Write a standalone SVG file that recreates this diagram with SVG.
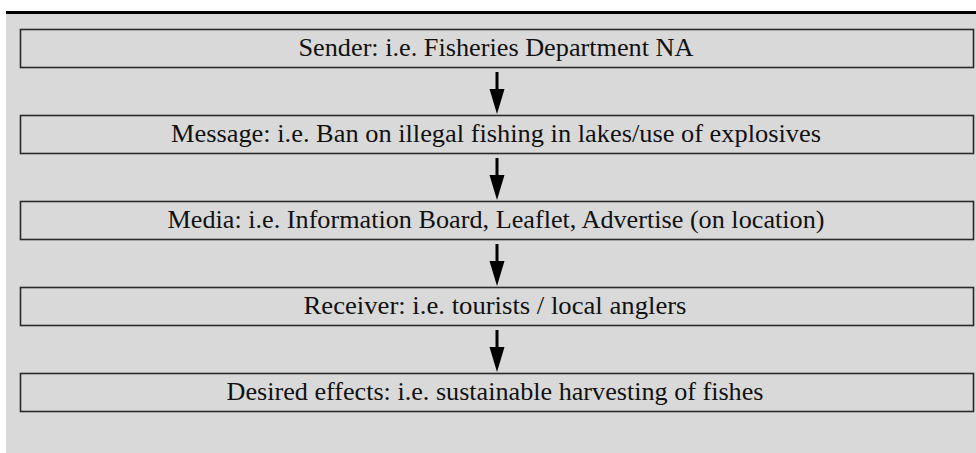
<svg xmlns="http://www.w3.org/2000/svg" width="976" height="453" viewBox="0 0 976 453">
<style>
.box{fill:#d9d9d9;stroke:#2a2a2a;stroke-width:1.6}
.lbl{font-family:"Liberation Serif","Times New Roman",serif;font-size:25px;fill:#111}
.conn{stroke:#000;stroke-width:3;fill:none}
.head{fill:#000}
</style>
<defs>
<g id="arrow">
<line class="conn" x1="0" y1="0" x2="0" y2="19"/>
<polygon class="head" points="-7.5,17 7.5,17 0,42"/>
</g>
</defs>
<rect x="6" y="14" width="970" height="439" fill="#d9d9d9"/>
<rect x="6" y="11" width="970" height="3" fill="#000"/>
<g id="n1"><rect class="box" x="20.5" y="29.5" width="953" height="38"/><text class="lbl" x="496" y="56" text-anchor="middle" textLength="395" lengthAdjust="spacingAndGlyphs">Sender: i.e. Fisheries Department NA</text></g>
<g id="n2"><rect class="box" x="20.5" y="115.5" width="953" height="38"/><text class="lbl" x="496" y="142" text-anchor="middle" textLength="650" lengthAdjust="spacingAndGlyphs">Message: i.e. Ban on illegal fishing in lakes/use of explosives</text></g>
<g id="n3"><rect class="box" x="20.5" y="201.5" width="953" height="38"/><text class="lbl" x="496" y="228" text-anchor="middle" textLength="657" lengthAdjust="spacingAndGlyphs">Media: i.e. Information Board, Leaflet, Advertise (on location)</text></g>
<g id="n4"><rect class="box" x="20.5" y="287.5" width="953" height="38"/><text class="lbl" x="495" y="314" text-anchor="middle" textLength="383" lengthAdjust="spacingAndGlyphs">Receiver: i.e. tourists / local anglers</text></g>
<g id="n5"><rect class="box" x="20.5" y="373.5" width="953" height="38"/><text class="lbl" x="495" y="400" text-anchor="middle" textLength="537" lengthAdjust="spacingAndGlyphs">Desired effects: i.e. sustainable harvesting of fishes</text></g>
<g id="connectors">
<use href="#arrow" x="497" y="72"/>
<use href="#arrow" x="497" y="158"/>
<use href="#arrow" x="497" y="244"/>
<use href="#arrow" x="497" y="330"/>
</g>
</svg>
